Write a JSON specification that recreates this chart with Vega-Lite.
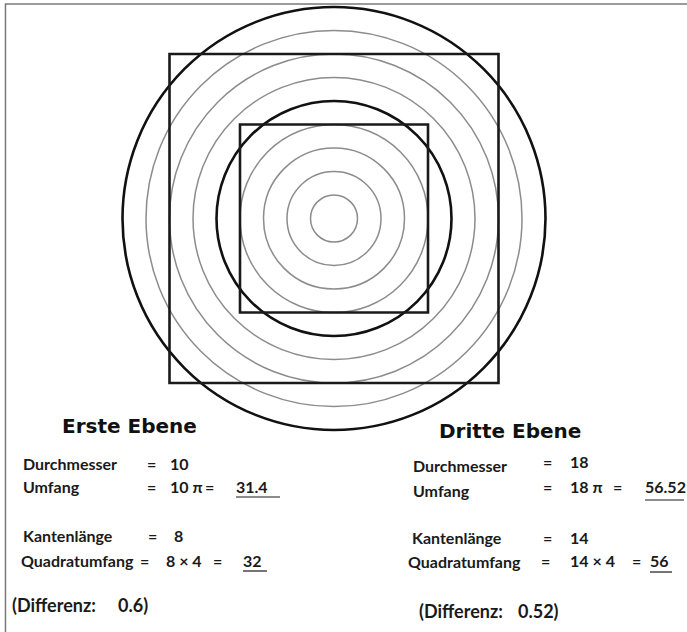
{
  "$schema": "https://vega.github.io/schema/vega-lite/v6.json",
  "width": 687,
  "height": 632,
  "padding": 0,
  "autosize": {"type": "none"},
  "background": "white",
  "config": {"view": {"stroke": null}},
  "datasets": {
    "frame": [{"x": -13.98, "x2": 15.106, "y": 9.13, "y2": -17.681}],
    "circles": [
      {"d": 2, "kind": "thin"},
      {"d": 4, "kind": "thin"},
      {"d": 6, "kind": "thin"},
      {"d": 8, "kind": "thin"},
      {"d": 10, "kind": "thick"},
      {"d": 12, "kind": "thin"},
      {"d": 14, "kind": "thin"},
      {"d": 16, "kind": "thin"},
      {"d": 18, "kind": "thick"}
    ],
    "squares": [
      {"side": 8, "x": -4, "x2": 4, "y": -4, "y2": 4},
      {"side": 14, "x": -7, "x2": 7, "y": -7, "y2": 7}
    ],
    "titles": [
      {"t": "Erste Ebene", "x": -11.574, "y": -9.128},
      {"t": "Dritte Ebene", "x": 4.468, "y": -9.34}
    ],
    "body": [
      {"t": "Durchmesser", "x": -13.234, "y": -10.702},
      {"t": "=", "x": -7.957, "y": -10.702},
      {"t": "10", "x": -6.979, "y": -10.702},
      {"t": "Umfang", "x": -13.234, "y": -11.681},
      {"t": "=", "x": -7.957, "y": -11.681},
      {"t": "10 π", "x": -6.979, "y": -11.681},
      {"t": "=", "x": -5.489, "y": -11.681},
      {"t": "31.4", "x": -4.17, "y": -11.681},
      {"t": "Kantenlänge", "x": -13.234, "y": -13.766},
      {"t": "=", "x": -7.915, "y": -13.766},
      {"t": "8", "x": -6.809, "y": -13.766},
      {"t": "Quadratumfang", "x": -13.319, "y": -14.83},
      {"t": "=", "x": -8.255, "y": -14.83},
      {"t": "8 × 4", "x": -7.149, "y": -14.83},
      {"t": "=", "x": -5.149, "y": -14.83},
      {"t": "32", "x": -3.872, "y": -14.83},
      {"t": "Durchmesser", "x": 3.362, "y": -10.787},
      {"t": "=", "x": 8.894, "y": -10.617},
      {"t": "18", "x": 10.043, "y": -10.617},
      {"t": "Umfang", "x": 3.362, "y": -11.851},
      {"t": "=", "x": 8.894, "y": -11.681},
      {"t": "18 π", "x": 10.043, "y": -11.681},
      {"t": "=", "x": 11.872, "y": -11.681},
      {"t": "56.52", "x": 13.234, "y": -11.681},
      {"t": "Kantenlänge", "x": 3.319, "y": -13.851},
      {"t": "=", "x": 8.894, "y": -13.851},
      {"t": "14", "x": 10.043, "y": -13.851},
      {"t": "Quadratumfang", "x": 3.149, "y": -14.872},
      {"t": "=", "x": 8.809, "y": -14.83},
      {"t": "14 × 4", "x": 10.043, "y": -14.83},
      {"t": "=", "x": 12.681, "y": -14.83},
      {"t": "56", "x": 13.447, "y": -14.83}
    ],
    "notes": [
      {"t": "(Differenz:", "x": -13.702, "y": -16.745},
      {"t": "0.6)", "x": -9.191, "y": -16.745},
      {"t": "(Differenz:", "x": 3.617, "y": -17.0},
      {"t": "0.52)", "x": 7.83, "y": -17.0}
    ],
    "underlines": [
      {"x": -4.17, "x2": -2.298, "y": -11.851},
      {"x": -3.872, "x2": -2.851, "y": -15.0},
      {"x": 13.234, "x2": 14.894, "y": -11.979},
      {"x": 13.447, "x2": 14.383, "y": -15.043}
    ]
  },
  "layer": [
    {
      "data": {"name": "frame"},
      "mark": {"type": "rect", "filled": false, "stroke": "#7a7a7a", "strokeWidth": 1.5, "clip": false},
      "encoding": {
        "x": {"field": "x", "type": "quantitative", "scale": {"domain": [-14.2128, 15.0213], "nice": false, "zero": false}, "axis": null},
        "x2": {"field": "x2"},
        "y": {"field": "y", "type": "quantitative", "scale": {"domain": [-17.5957, 9.2979], "nice": false, "zero": false}, "axis": null},
        "y2": {"field": "y2"}
      }
    },
    {
      "data": {"name": "circles"},
      "mark": {"type": "point", "shape": "circle", "filled": false, "opacity": 1},
      "encoding": {
        "x": {"datum": 0, "type": "quantitative"},
        "y": {"datum": 0, "type": "quantitative"},
        "size": {"field": "d", "type": "quantitative", "scale": {"type": "pow", "exponent": 2, "domain": [0, 18], "range": [0, 178929]}, "legend": null},
        "stroke": {"field": "kind", "type": "nominal", "scale": {"domain": ["thick", "thin"], "range": ["#111111", "#8c8c8c"]}, "legend": null},
        "strokeWidth": {"field": "kind", "type": "nominal", "scale": {"domain": ["thick", "thin"], "range": [2.6, 1.5]}, "legend": null}
      }
    },
    {
      "data": {"name": "squares"},
      "mark": {"type": "rect", "filled": false, "stroke": "#1a1a1a", "strokeWidth": 2.6},
      "encoding": {
        "x": {"field": "x", "type": "quantitative"},
        "x2": {"field": "x2"},
        "y": {"field": "y", "type": "quantitative"},
        "y2": {"field": "y2"}
      }
    },
    {
      "data": {"name": "titles"},
      "mark": {"type": "text", "align": "left", "baseline": "alphabetic", "font": "DejaVu Sans", "fontWeight": "bold", "fontSize": 20, "color": "#111111"},
      "encoding": {
        "x": {"field": "x", "type": "quantitative"},
        "y": {"field": "y", "type": "quantitative"},
        "text": {"field": "t"}
      }
    },
    {
      "data": {"name": "body"},
      "mark": {"type": "text", "align": "left", "baseline": "alphabetic", "font": "Lato", "fontWeight": "bold", "fontSize": 16, "color": "#1a1a1a"},
      "encoding": {
        "x": {"field": "x", "type": "quantitative"},
        "y": {"field": "y", "type": "quantitative"},
        "text": {"field": "t"}
      }
    },
    {
      "data": {"name": "notes"},
      "mark": {"type": "text", "align": "left", "baseline": "alphabetic", "font": "Lato", "fontWeight": "bold", "fontSize": 18, "color": "#1a1a1a"},
      "encoding": {
        "x": {"field": "x", "type": "quantitative"},
        "y": {"field": "y", "type": "quantitative"},
        "text": {"field": "t"}
      }
    },
    {
      "data": {"name": "underlines"},
      "mark": {"type": "rule", "stroke": "#1a1a1a", "strokeWidth": 1.2},
      "encoding": {
        "x": {"field": "x", "type": "quantitative"},
        "x2": {"field": "x2"},
        "y": {"field": "y", "type": "quantitative"}
      }
    }
  ]
}
